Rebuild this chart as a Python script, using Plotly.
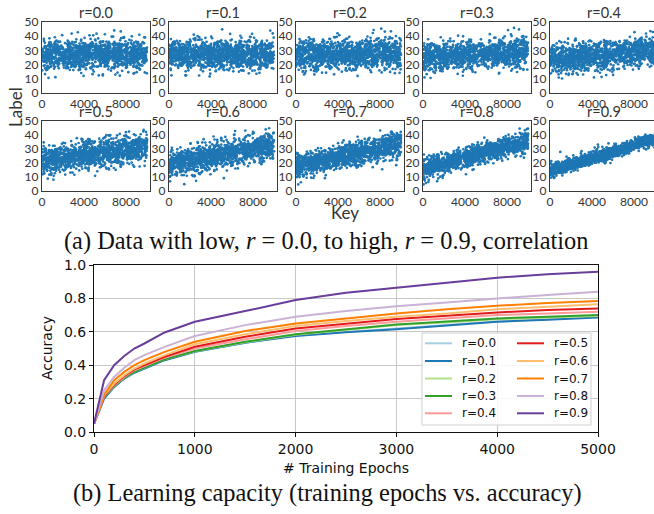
import numpy as np
import plotly.graph_objects as go

# ---------------------------------------------------------------- data
R_VALUES = [0.0, 0.1, 0.2, 0.3, 0.4, 0.5, 0.6, 0.7, 0.8, 0.9]
R_LABELS = ["r=0.0", "r=0.1", "r=0.2", "r=0.3", "r=0.4",
            "r=0.5", "r=0.6", "r=0.7", "r=0.8", "r=0.9"]

# synthetic key/label clouds: mean label at key 0 and at key 10000, and spread
CLOUD_START = [27.0, 27.0, 26.5, 25.0, 23.5, 21.5, 19.5, 17.5, 15.5, 14.5]
CLOUD_END = [27.0, 27.0, 28.0, 29.0, 30.0, 31.5, 33.0, 34.0, 35.5, 37.0]
CLOUD_SPREAD = [5.2, 5.2, 5.2, 5.0, 5.0, 5.0, 4.8, 4.3, 3.6, 2.3]
N_KEYS = 1300
KEY_MAX = 10000

# training curves: accuracy vs. epochs for each correlation level
EPOCHS = [0, 100, 200, 300, 400, 500, 700, 1000, 1500, 2000, 2500, 3000, 3500, 4000, 4500, 5000]
ACCURACY = {
    "r=0.0": [0.05, 0.20, 0.27, 0.32, 0.355, 0.38, 0.43, 0.48, 0.535, 0.578, 0.600, 0.620, 0.640, 0.662, 0.675, 0.690],
    "r=0.1": [0.05, 0.20, 0.27, 0.32, 0.355, 0.38, 0.43, 0.48, 0.535, 0.575, 0.598, 0.615, 0.638, 0.660, 0.672, 0.685],
    "r=0.2": [0.05, 0.21, 0.275, 0.325, 0.36, 0.385, 0.435, 0.483, 0.537, 0.583, 0.610, 0.640, 0.655, 0.675, 0.685, 0.695],
    "r=0.3": [0.05, 0.21, 0.275, 0.325, 0.36, 0.385, 0.435, 0.485, 0.540, 0.585, 0.615, 0.644, 0.662, 0.680, 0.690, 0.700],
    "r=0.4": [0.05, 0.215, 0.28, 0.33, 0.37, 0.395, 0.445, 0.500, 0.555, 0.605, 0.635, 0.660, 0.680, 0.700, 0.710, 0.720],
    "r=0.5": [0.05, 0.215, 0.285, 0.335, 0.375, 0.40, 0.45, 0.510, 0.570, 0.620, 0.650, 0.676, 0.696, 0.716, 0.730, 0.740],
    "r=0.6": [0.05, 0.22, 0.29, 0.34, 0.38, 0.41, 0.46, 0.525, 0.585, 0.635, 0.665, 0.690, 0.710, 0.735, 0.750, 0.765],
    "r=0.7": [0.05, 0.225, 0.31, 0.36, 0.40, 0.43, 0.48, 0.540, 0.605, 0.650, 0.680, 0.710, 0.735, 0.756, 0.772, 0.784],
    "r=0.8": [0.05, 0.25, 0.33, 0.385, 0.43, 0.46, 0.51, 0.575, 0.640, 0.690, 0.724, 0.753, 0.775, 0.800, 0.820, 0.840],
    "r=0.9": [0.05, 0.31, 0.40, 0.455, 0.50, 0.53, 0.596, 0.660, 0.724, 0.790, 0.834, 0.864, 0.895, 0.924, 0.945, 0.960],
}
LINE_COLORS = ["#a6cee3", "#1f78b4", "#b2df8a", "#33a02c", "#fb9a99",
               "#e31a1c", "#fdbf6f", "#ff7f00", "#cab2d6", "#6a3d9a"]

X_TICKS_TOP = [0, 2000, 4000, 6000, 8000, 10000]
X_TICKTEXT_TOP = ["0", "", "4000", "", "8000", ""]
Y_TICKS_TOP = [0, 10, 20, 30, 40, 50]
Y_TICKS_BOTTOM = [0.0, 0.2, 0.4, 0.6, 0.8, 1.0]
X_TICKS_BOTTOM = [0, 1000, 2000, 3000, 4000, 5000]

# ---------------------------------------------------------------- layout helpers
W, H = 654, 514


def px_x(p):
    return p / W


def px_y(p):
    return 1 - p / H


fig = go.Figure()
annotations = []
shapes = []

SANS_TOP = "Lato, 'Open Sans', sans-serif"
TOP_GREY = "#333333"
FRAME_GREY = "#3a3a3a"

# ---------------------------------------------------------------- scatter panels
rng = np.random.default_rng(11)
panel_w = 108.3
x_span = 10310.0
lefts = [42.0, 169.0, 296.0, 423.0, 550.0]
rows = [(22.0, 93.0), (121.0, 191.0)]

for i, r in enumerate(R_VALUES):
    row, col = divmod(i, 5)
    left = lefts[col]
    right = min(left + panel_w, W)
    x_hi = x_span * (right - left) / panel_w
    top, bottom = rows[row]
    ax = i + 2           # axis index 1 is kept for the accuracy chart
    tick_ax = i + 20     # companion axes that only carry the small outside ticks

    keys = np.sort(rng.uniform(0, KEY_MAX, N_KEYS))
    trend = CLOUD_START[i] + (CLOUD_END[i] - CLOUD_START[i]) * keys / KEY_MAX
    labels = trend + rng.normal(0, CLOUD_SPREAD[i], N_KEYS)

    fig.add_trace(go.Scatter(
        x=keys, y=labels, mode="markers",
        marker=dict(color="#1f77b4", size=2.7, line=dict(width=0)),
        xaxis=f"x{ax}", yaxis=f"y{ax}", showlegend=False, hoverinfo="skip",
    ))
    xdom = [px_x(left), px_x(right)]
    ydom = [px_y(bottom), px_y(top)]
    label_style = dict(showgrid=False, zeroline=False, showline=True, mirror=True,
                       linecolor=FRAME_GREY, linewidth=1.3, ticks="", automargin=False,
                       tickfont=dict(family=SANS_TOP, size=12, color=TOP_GREY))
    tick_style = dict(showgrid=False, zeroline=False, showline=False, showticklabels=False,
                      ticks="outside", ticklen=3, tickwidth=1, tickcolor=FRAME_GREY,
                      automargin=False)
    fig.layout[f"xaxis{ax}"] = dict(
        domain=xdom, anchor=f"y{ax}", range=[0, x_hi], ticklabelstandoff=-1,
        tickmode="array", tickvals=X_TICKS_TOP, ticktext=X_TICKTEXT_TOP, **label_style)
    fig.layout[f"yaxis{ax}"] = dict(
        domain=ydom, anchor=f"x{ax}", range=[0, 50], ticklabelstandoff=0,
        tickmode="array", tickvals=Y_TICKS_TOP, **label_style)
    fig.layout[f"xaxis{tick_ax}"] = dict(
        domain=xdom, anchor=f"y{ax}", overlaying=f"x{ax}", range=[0, x_hi],
        tickmode="array", tickvals=X_TICKS_TOP, **tick_style)
    fig.layout[f"yaxis{tick_ax}"] = dict(
        domain=ydom, anchor=f"x{ax}", overlaying=f"y{ax}", range=[0, 50],
        tickmode="array", tickvals=Y_TICKS_TOP, **tick_style)
    annotations.append(dict(
        text=R_LABELS[i], x=px_x(left + panel_w / 2), y=px_y(top - 9.5),
        xref="paper", yref="paper", showarrow=False, xanchor="center", yanchor="middle",
        borderpad=0, font=dict(family=SANS_TOP, size=14.5, color=TOP_GREY)))

annotations.append(dict(text="Label", x=px_x(15), y=px_y(107), xref="paper", yref="paper",
                        showarrow=False, textangle=-90, xanchor="center", yanchor="middle",
                        font=dict(family=SANS_TOP, size=17, color=TOP_GREY)))
annotations.append(dict(text="Key", x=px_x(345), y=px_y(212), xref="paper", yref="paper",
                        showarrow=False, xanchor="center", yanchor="middle",
                        font=dict(family=SANS_TOP, size=17, color=TOP_GREY)))

SERIF = "'Liberation Serif', 'Times New Roman', serif"
annotations.append(dict(
    text="(a) Data with low, <i>r</i> = 0.0, to high, <i>r</i> = 0.9, correlation",
    x=px_x(326), y=px_y(241), xref="paper", yref="paper", showarrow=False,
    xanchor="center", yanchor="middle", font=dict(family=SERIF, size=24.4, color="#111111")))
annotations.append(dict(
    text="(b) Learning capacity (training epochs vs. accuracy)",
    x=px_x(327), y=px_y(493), xref="paper", yref="paper", showarrow=False,
    xanchor="center", yanchor="middle", font=dict(family=SERIF, size=24.4, color="#111111")))

# ---------------------------------------------------------------- accuracy chart
DEJAVU = "'DejaVu Sans', sans-serif"
for i, name in enumerate(R_LABELS):
    fig.add_trace(go.Scatter(
        x=EPOCHS, y=ACCURACY[name], mode="lines", name=name,
        line=dict(color=LINE_COLORS[i], width=2),
        xaxis="x", yaxis="y", showlegend=False,
    ))

fig.layout.xaxis = dict(
    domain=[px_x(94), px_x(598)], anchor="y", range=[0, 5000],
    tickmode="array", tickvals=X_TICKS_BOTTOM, automargin=False,
    showgrid=True, gridcolor="#c8c8c8", gridwidth=1.2, zeroline=False,
    showline=True, mirror=True, linecolor="#111111", linewidth=1,
    ticks="outside", ticklen=4, tickcolor="#111111",
    tickfont=dict(family=DEJAVU, size=14, color="#111111"))
fig.layout.yaxis = dict(
    domain=[px_y(432), px_y(265)], anchor="x", range=[0, 1.0],
    tickmode="array", tickvals=Y_TICKS_BOTTOM, tickformat=".1f", automargin=False,
    showgrid=True, gridcolor="#c8c8c8", gridwidth=1.2, zeroline=False,
    showline=True, mirror=True, linecolor="#111111", linewidth=1,
    ticks="outside", ticklen=4, tickcolor="#111111",
    tickfont=dict(family=DEJAVU, size=14, color="#111111"))

annotations.append(dict(text="Accuracy", x=px_x(47), y=px_y(348), xref="paper", yref="paper",
                        showarrow=False, textangle=-90, xanchor="center", yanchor="middle",
                        font=dict(family=DEJAVU, size=14, color="#111111")))
annotations.append(dict(text="# Training Epochs", x=px_x(346), y=px_y(468), xref="paper",
                        yref="paper", showarrow=False, xanchor="center", yanchor="middle",
                        font=dict(family=DEJAVU, size=14, color="#111111")))

# legend box, two columns of five entries
shapes.append(dict(type="rect", xref="paper", yref="paper",
                   x0=px_x(422), x1=px_x(591), y0=px_y(425), y1=px_y(333),
                   fillcolor="rgba(255,255,255,0.85)", line=dict(color="#d0d0d0", width=1)))
row_y = [343.3, 361.0, 378.5, 396.0, 413.3]
for i, name in enumerate(R_LABELS):
    col, row = divmod(i, 5)
    lx0 = 425 if col == 0 else 517
    tx = 460 if col == 0 else 552
    yy = row_y[row]
    shapes.append(dict(type="line", xref="paper", yref="paper",
                       x0=px_x(lx0), x1=px_x(lx0 + 27), y0=px_y(yy), y1=px_y(yy),
                       line=dict(color=LINE_COLORS[i], width=2)))
    annotations.append(dict(text=name, x=px_x(tx), y=px_y(yy), xref="paper", yref="paper",
                            showarrow=False, xanchor="left", yanchor="middle",
                            font=dict(family=DEJAVU, size=12, color="#111111")))

fig.update_layout(
    template="none",
    width=W, height=H, margin=dict(l=0, r=0, t=0, b=0, pad=0),
    paper_bgcolor="white", plot_bgcolor="white",
    annotations=annotations, shapes=shapes, showlegend=False,
)

fig.write_html("out.html")
